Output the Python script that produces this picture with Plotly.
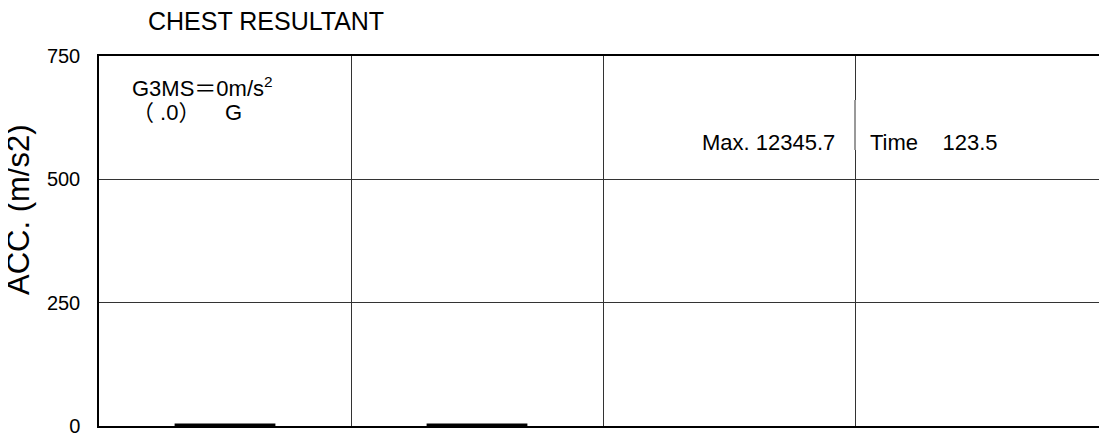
import plotly.graph_objects as go

# ---- data ----
title_text = "CHEST RESULTANT"
y_title = "ACC. (m/s2)"
y_ticks = [0, 250, 500, 750]
x_ticks = [0, 50, 100, 150, 200]
time = [15, 35, None, 65, 85]
acc = [0, 0, None, 0, 0]
g3ms_line1 = "G3MS＝0m/s<sup>2</sup>"
g3ms_line2 = "（ .0）    G"
max_text = "Max. 12345.7"
time_text = "Time    123.5"

FONT = "Liberation Sans, Arial, Noto Sans CJK JP, sans-serif"

# page body has an 8px margin; work in page pixels and convert
OFF = 8
W, H = 1107 - OFF, 436 - OFF
PL, PT, PR, PB = 99, 56, 1107, 426  # plot area in page pixels
PW, PH = PR - PL, PB - PT


def px(xp):
    return (xp - PL) / PW


def py(yp):
    return (PB - yp) / PH


fig = go.Figure()
fig.add_trace(go.Scatter(
    x=time, y=acc, mode="lines",
    line=dict(color="black", width=5),
    cliponaxis=False, showlegend=False, hoverinfo="skip",
))

fig.update_layout(
    width=W, height=H,
    margin=dict(l=PL - OFF, r=0, t=PT - OFF, b=H - (PB - OFF)),
    paper_bgcolor="white", plot_bgcolor="white",
    font=dict(family=FONT, color="black"),
    title=dict(text=title_text, x=(148 - OFF) / W, xanchor="left",
               y=1 - (21 - OFF) / H, yanchor="middle",
               font=dict(size=25, family=FONT, color="black")),
    showlegend=False,
)

fig.update_xaxes(
    range=[x_ticks[0], x_ticks[-1]], tickvals=x_ticks, showticklabels=False,
    showgrid=True, gridcolor="#333", gridwidth=1,
    showline=True, linecolor="black", linewidth=1.5, mirror=True,
    zeroline=False, ticks="",
)
fig.update_yaxes(
    range=[y_ticks[0], y_ticks[-1]], tickvals=y_ticks,
    showgrid=True, gridcolor="#333", gridwidth=1,
    showline=True, linecolor="black", linewidth=1.5,
    zeroline=False, ticks="", ticklabelstandoff=13,
    ticklabeloverflow="allow",
    tickfont=dict(size=20, family=FONT, color="black"),
)

fig.add_annotation(
    text=y_title, textangle=-90, xref="paper", yref="paper",
    x=px(18), y=py(210), xanchor="center", yanchor="middle",
    showarrow=False, font=dict(size=31, family=FONT, color="black"),
)
fig.add_annotation(
    text=g3ms_line1, xref="paper", yref="paper",
    x=px(130), y=py(87), xanchor="left", yanchor="middle",
    showarrow=False, font=dict(size=22, family=FONT, color="black"),
)
fig.add_annotation(
    text=g3ms_line2, xref="paper", yref="paper",
    x=px(130), y=py(112), xanchor="left", yanchor="middle",
    showarrow=False, font=dict(size=22, family=FONT, color="black"),
)
fig.add_annotation(
    text=max_text, xref="paper", yref="paper",
    x=px(837), y=py(142), xanchor="right", yanchor="middle",
    showarrow=False, font=dict(size=22, family=FONT, color="black"),
)
fig.add_annotation(
    text=time_text, xref="paper", yref="paper",
    x=px(868), y=py(142), xanchor="left", yanchor="middle",
    showarrow=False, font=dict(size=22, family=FONT, color="black"),
)
# light separator next to the Time label
fig.add_shape(type="line", xref="x", yref="paper",
              x0=x_ticks[3], x1=x_ticks[3],
              y0=py(150), y1=py(100),
              line=dict(color="#999", width=2))

fig.write_html("out.html")
